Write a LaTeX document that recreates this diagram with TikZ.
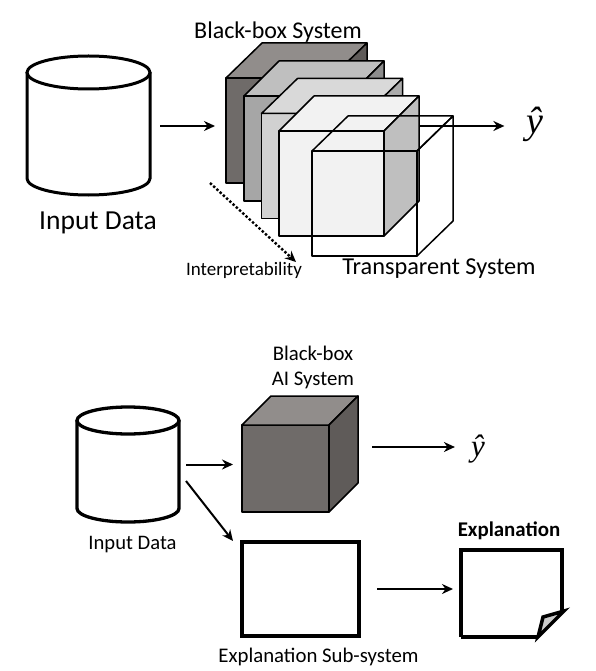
\documentclass[tikz,border=0pt]{standalone}
\usepackage{fontspec}
\setmainfont{Carlito}
\newfontfamily\hatfont{Liberation Serif}
\usetikzlibrary{arrows.meta,positioning,calc}
\definecolor{darkfront}{HTML}{6F6B69}
\definecolor{darktop}{HTML}{918D8B}
\definecolor{darkside}{HTML}{5F5B59}
\tikzset{
 face/.style={draw,line width=1.5pt,line join=round},
 front/.style={face,inner sep=0pt,outer sep=0pt,minimum width=#1,minimum height=#1},
 spot/.style={inner sep=0pt,outer sep=0pt},
 arr/.style={line width=2pt,-{Stealth[length=11pt,width=10pt]}},
 lbl/.style={inner sep=0pt},
 hat/.style={lbl,font=\hatfont\itshape\fontsize{#1}{42}\selectfont},
 cubew/.initial=105,cubeh/.initial=105
}
% top and side of a cube whose front is node #1
\newcommand{\cubefaces}[5]{
 \draw[face,fill=#4](#1.north west)--++(#2,-#3)--++(\pgfkeysvalueof{/tikz/cubew},0)--(#1.north east)--cycle;
 \draw[face,fill=#5](#1.north east)--++(#2,-#3)--++(0,\pgfkeysvalueof{/tikz/cubeh})--(#1.south east)--cycle;
}
% barrel inside node #1, radii #2 and #3
\newcommand{\barrel}[3]{
 \draw[fill=white]($(#1.north west)+(0,-#3)$)--($(#1.south west)+(0,#3)$)
  arc[start angle=180,end angle=360,x radius=#2,y radius=#3]--($(#1.north east)+(0,-#3)$);
 \draw[fill=white]($(#1.north)+(0,-#3)$)ellipse[x radius=#2,y radius=#3];
}
\begin{document}
\begin{tikzpicture}[x=1pt,y=-1pt]
\useasboundingbox[fill=white](0,0) rectangle (595,671);
% upper part
\node[spot,minimum width=123pt,minimum height=139pt](dba) at (88.5,125.5){};
\begin{scope}[line width=3pt]
\barrel{dba}{61.5pt}{16.5pt}
\end{scope}
\node[lbl,font=\fontsize{27.5}{30}\selectfont](dbalbl) at (98,223){Input Data};
\node[front=105pt,fill=darkfront](ca) at (278.5,130.5){};
\cubefaces{ca}{36}{35}{darktop}{darkside}
\node[front=105pt,fill=black!35](cb) at (296.5,148.5){};
\cubefaces{cb}{35}{35}{black!25}{black!45}
\node[front=105pt,fill=black!18](cc) at (314,166){};
\cubefaces{cc}{36}{35}{black!15}{black!33}
\node[front=105pt,fill=black!5](cd) at (331.5,183.5){};
\cubefaces{cd}{35}{35}{black!5}{black!25}
\node[hat=38](ya) at (535,124){ŷ};
\coordinate (outa) at (419,126);
\draw[arr,shorten >=22pt](outa)--(ya.west |- outa);
\draw[arr,shorten <=10pt,shorten >=11pt](dba.east |- outa)--(ca.west |- outa);
\node[front=105pt](ct) at (364.5,203.5){};
\draw[face](ct.north west)--++(36,-35)--++(105,0)--(ct.north east);
\draw[face](ct.south east)--++(36,-35)--++(0,-105)--(ct.north east);
\coordinate (dota) at (210,183);
\coordinate (dotb) at (296,262);
\draw[line width=2.4pt,dotted,-{Stealth[length=11pt,width=10pt]}](dota)--(dotb);
\node[lbl,font=\fontsize{24}{26}\selectfont](ttlb) at (278,32){Black-box System};
\node[lbl,font=\fontsize{19}{21}\selectfont](ttli) at (244,270){Interpretability};
\node[lbl,font=\fontsize{24.3}{26}\selectfont](ttlt) at (439,269){Transparent System};
% lower part
\node[spot,minimum width=102pt,minimum height=115pt](dbb) at (128,464.5){};
\begin{scope}[line width=3.3pt]
\barrel{dbb}{51pt}{13.5pt}
\end{scope}
\node[lbl,font=\fontsize{20.6}{22}\selectfont](dbblbl) at (132.5,545){Input Data};
\node[front=87pt,fill=darkfront](ce) at (285.5,468.5){};
\tikzset{cubew=87,cubeh=87}
\cubefaces{ce}{29}{29}{darktop}{darkside}
\node[lbl,font=\fontsize{20.8}{22}\selectfont,align=center](ttle) at (313,367){Black-box\\[3pt]AI System};
\node[draw,line width=4pt,fill=white,inner sep=0pt,outer sep=0pt,minimum width=117pt,minimum height=94pt](sub) at (300.5,589){};
\node[lbl,font=\fontsize{20.8}{22}\selectfont](sublbl) at (318.5,657){Explanation Sub-system};
\node[hat=31](yb) at (478,449){ŷ};
\node[spot,minimum width=101pt,minimum height=87pt](note) at (511.5,593.5){};
\draw[line width=4pt,line join=miter](note.south west)--(note.north west)--(note.north east)--++(0,62);
\draw[line width=4pt](note.south west)--++(77,0);
\draw[line width=3.5pt,fill=black!20,line join=miter](564,611)--(543,617)--(538,637)--cycle;
\node[lbl,font=\bfseries\fontsize{20.9}{23}\selectfont](notelbl) at (509,531){Explanation};
\draw[arr,shorten <=7pt,shorten >=9pt](dbb.east)--(ce.west |- dbb.east);
\coordinate (forka) at (186,481);
\draw[arr]($(forka)$)--($(sub.north west)+(-9,-1)$);
\coordinate (outb) at (372,447);
\draw[arr,shorten >=16pt](outb)--(yb.west |- outb);
\coordinate (outc) at (377,589);
\draw[arr,shorten >=8pt](outc)--(note.west |- outc);
\end{tikzpicture}
\end{document}
